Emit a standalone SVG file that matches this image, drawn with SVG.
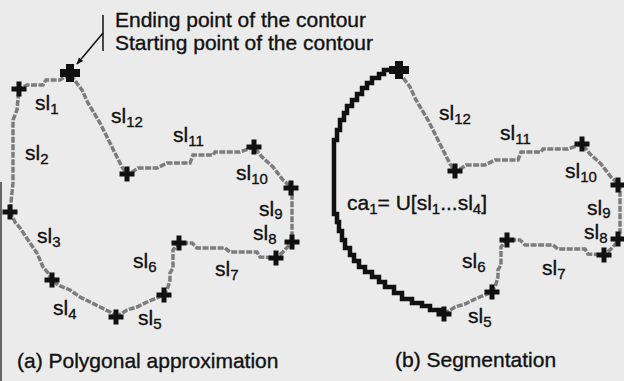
<svg xmlns="http://www.w3.org/2000/svg" xmlns:xlink="http://www.w3.org/1999/xlink" width="624" height="381" viewBox="0 0 624 381">
  <style>
    text { font-family: "Liberation Sans", Arial, Helvetica, sans-serif; font-size: 21px; fill: #111; stroke: #111; stroke-width: 0.35; }
    .sub { font-size: 15px; }
    .contour { fill: none; stroke: #7c7c7c; stroke-width: 3.5; stroke-dasharray: 6 1.5; stroke-linejoin: miter; }
    .arc { fill: none; stroke: #111; stroke-width: 4.5; stroke-linejoin: miter; }
    .leader { fill: none; stroke: #111; stroke-width: 1.5; }
  </style>
  <defs>
    <path id="cross" d="M-7.5,-2.5 h15 v5 h-15 z M-2.5,-7.5 h5 v15 h-5 z" fill="#111"/>
    <path id="bigcross" d="M-10,-4 h20 v8 h-20 z M-4,-9 h8 v18 h-8 z" fill="#111"/>
    <path id="pathB" class="contour" d="M116,317 L127,310 L137,307 L147,302 L157,298 L164,295 L168,287 L170,280 V273 L173,268 V250 L179,243 L192,243 L197,248 H225 L230,252 H257 L260,257 L276,258 L283,252 L292,242 V188 L283,180 L273,167 L262,157 L254,147 L240,152 H215 L213,155 H193 L190,163 H167 L157,168 H138 L128,175 L122,167 L115,153 L107,137 L100,123 L88,103 L82,90 L70,74"/>
    <marker id="arrow" viewBox="0 0 10 10" refX="9" refY="5" markerWidth="7" markerHeight="7" orient="auto" markerUnits="userSpaceOnUse">
      <path d="M0,1 L10,5 L0,9 z" fill="#111"/>
    </marker>
  </defs>

  <rect width="624" height="381" fill="#ebebeb"/>
  <line x1="1" y1="182" x2="1" y2="381" stroke="#666" stroke-width="2"/>

  <g id="header">
    <text x="115" y="27">Ending point of the contour</text>
    <text x="115" y="50">Starting point of the contour</text>
    <line class="leader" x1="103" y1="15" x2="103" y2="51"/>
    <line class="leader" x1="103" y1="33" x2="77" y2="64" marker-end="url(#arrow)"/>
  </g>

  <g id="panel-a">
    <g id="connectors-a">
      <path class="contour" d="M70,74 L60,80 H46 L43,85 H27 L19,89 L17,110 L13,120 V183 L10,212 L15,222 L20,228 L30,243 L37,253 L43,267 L48,273 L52,280 L58,285 L70,290 L80,297 L90,302 L100,307 L110,312 L116,317"/>
      <use xlink:href="#pathB" href="#pathB"/>
    </g>
    <g id="points-a">
      <use href="#bigcross" xlink:href="#bigcross" x="70" y="73"/>
      <use href="#cross" xlink:href="#cross" x="19" y="89"/>
      <use href="#cross" xlink:href="#cross" x="10" y="212"/>
      <use href="#cross" xlink:href="#cross" x="52" y="280"/>
      <use href="#cross" xlink:href="#cross" x="116" y="317"/>
      <use href="#cross" xlink:href="#cross" x="164" y="295"/>
      <use href="#cross" xlink:href="#cross" x="179" y="243"/>
      <use href="#cross" xlink:href="#cross" x="276" y="258"/>
      <use href="#cross" xlink:href="#cross" x="292" y="242"/>
      <use href="#cross" xlink:href="#cross" x="291" y="188"/>
      <use href="#cross" xlink:href="#cross" x="254" y="147"/>
      <use href="#cross" xlink:href="#cross" x="127" y="174"/>
    </g>
    <g id="labels-a">
      <text x="35" y="110">sl<tspan class="sub" dy="4">1</tspan></text>
      <text x="25" y="160">sl<tspan class="sub" dy="4">2</tspan></text>
      <text x="37" y="243">sl<tspan class="sub" dy="4">3</tspan></text>
      <text x="53" y="315">sl<tspan class="sub" dy="4">4</tspan></text>
      <text x="138" y="325">sl<tspan class="sub" dy="4">5</tspan></text>
      <text x="133" y="268">sl<tspan class="sub" dy="4">6</tspan></text>
      <text x="215" y="276">sl<tspan class="sub" dy="4">7</tspan></text>
      <text x="253" y="240">sl<tspan class="sub" dy="4">8</tspan></text>
      <text x="259" y="216">sl<tspan class="sub" dy="3">9</tspan></text>
      <text x="236" y="180">sl<tspan class="sub" dy="4">10</tspan></text>
      <text x="173" y="142">sl<tspan class="sub" dy="4">11</tspan></text>
      <text x="111" y="123">sl<tspan class="sub" dy="4">12</tspan></text>
    </g>
    <text id="caption-a" x="17" y="368">(a) Polygonal approximation</text>
  </g>

  <g id="panel-b">
    <g id="connectors-b">
      <path class="arc" d="M399,70 H384 V74 H379 V78 H372 V83 H367 V88 H362 V94 H357 V100 H352 V106 H347 V113 H344 V120 H340 V130 H337 V140 H334 V214 H337 V222 H339 V231 H342 V240 H345 V248 H350 V255 H354 V261 H359 V267 H365 V272 H372 V277 H379 V282 H385 V287 H394 V293 H402 V299 H412 V303 H422 V306 H430 V310 H440 V313 H445"/>
      <use href="#pathB" xlink:href="#pathB" transform="translate(328,-3)"/>
    </g>
    <g id="points-b" transform="translate(328,-3)">
      <use href="#bigcross" xlink:href="#bigcross" x="71" y="73"/>
      <use href="#cross" xlink:href="#cross" x="116" y="317"/>
      <use href="#cross" xlink:href="#cross" x="164" y="295"/>
      <use href="#cross" xlink:href="#cross" x="179" y="243"/>
      <use href="#cross" xlink:href="#cross" x="276" y="258"/>
      <use href="#cross" xlink:href="#cross" x="290" y="242"/>
      <use href="#cross" xlink:href="#cross" x="290" y="188"/>
      <use href="#cross" xlink:href="#cross" x="254" y="147"/>
      <use href="#cross" xlink:href="#cross" x="127" y="174"/>
    </g>
    <g id="labels-b">
      <text x="347" y="210">ca<tspan class="sub" dy="4">1</tspan><tspan dy="-4">= U[sl</tspan><tspan class="sub" dy="4">1</tspan><tspan dy="-4">...sl</tspan><tspan class="sub" dy="4">4</tspan><tspan dy="-4">]</tspan></text>
      <text x="468" y="323">sl<tspan class="sub" dy="4">5</tspan></text>
      <text x="462" y="268">sl<tspan class="sub" dy="4">6</tspan></text>
      <text x="542" y="275">sl<tspan class="sub" dy="4">7</tspan></text>
      <text x="584" y="239">sl<tspan class="sub" dy="4">8</tspan></text>
      <text x="587" y="215">sl<tspan class="sub" dy="3">9</tspan></text>
      <text x="565" y="178">sl<tspan class="sub" dy="4">10</tspan></text>
      <text x="500" y="140">sl<tspan class="sub" dy="4">11</tspan></text>
      <text x="439" y="120">sl<tspan class="sub" dy="4">12</tspan></text>
    </g>
    <text id="caption-b" x="395" y="367">(b) Segmentation</text>
  </g>
</svg>
